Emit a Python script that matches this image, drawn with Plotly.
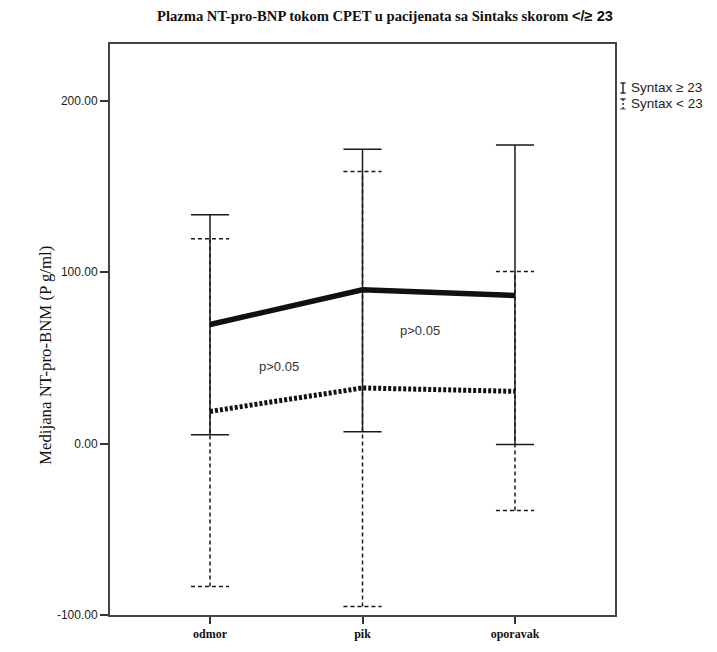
import plotly.graph_objects as go

# ---- data ----
categories = ["odmor", "pik", "oporavak"]
median_ge = [69.5, 89.8, 86.5]      # Syntax >= 23
upper_ge = [133.5, 171.8, 174.3]
lower_ge = [5.2, 7.0, -0.5]
median_lt = [18.8, 32.5, 30.5]      # Syntax < 23
upper_lt = [119.5, 158.8, 100.5]
lower_lt = [-83.4, -95.0, -39.0]
y_ticks = [-100, 0, 100, 200]
y_tick_labels = ["-100.00", "0.00", "100.00", "200.00"]
p_labels = ["p>0.05", "p>0.05"]
p_pos_x = [0.45, 1.38]
p_pos_y = [45, 66]

xs = list(range(len(categories)))
CAP = 0.125


def whisker_path(lo, hi):
    px, py = [], []
    for i, (a, b) in enumerate(zip(lo, hi)):
        px += [i, i, None, i - CAP, i + CAP, None, i - CAP, i + CAP, None]
        py += [a, b, None, b, b, None, a, a, None]
    return px, py


fig = go.Figure()

wx, wy = whisker_path(lower_ge, upper_ge)
fig.add_trace(go.Scatter(x=wx, y=wy, mode="lines", line=dict(color="#1a1a1a", width=1.5),
                         hoverinfo="skip", showlegend=False))
wx, wy = whisker_path(lower_lt, upper_lt)
fig.add_trace(go.Scatter(x=wx, y=wy, mode="lines",
                         line=dict(color="#1a1a1a", width=1.5, dash="4px,3px"),
                         hoverinfo="skip", showlegend=False))

fig.add_trace(go.Scatter(x=xs, y=median_ge, mode="lines", line=dict(color="#111", width=5.5),
                         name="Syntax ≥ 23", showlegend=False))
fig.add_trace(go.Scatter(x=xs, y=median_lt, mode="lines",
                         line=dict(color="#111", width=5, dash="3px,2px"),
                         name="Syntax < 23", showlegend=False))

for t, px, py in zip(p_labels, p_pos_x, p_pos_y):
    fig.add_annotation(x=px, y=py, text=t, showarrow=False,
                       font=dict(family="Liberation Sans, Arial", size=13, color="#333"))

# title
fig.add_annotation(
    xref="paper", yref="paper", x=0.545, y=1.049, xanchor="center", yanchor="middle",
    text="<b>Plazma NT-pro-BNP tokom CPET u pacijenata sa Sintaks skorom "
         "<span style='font-family:Liberation Sans, Arial'>&lt;/≥ 23</span></b>",
    showarrow=False, font=dict(family="Liberation Serif, Times New Roman", size=14.6, color="#111"))

# y-axis title
fig.add_annotation(
    xref="paper", yref="paper", x=-0.152, y=0.455, textangle=-90,
    text="Medijana NT-pro-BNM (P g/ml)", showarrow=False,
    font=dict(family="Liberation Serif, Times New Roman", size=16.8, color="#111"))

# legend (text + symbols)
leg_items = [("Syntax ≥ 23", 88, "solid"), ("Syntax < 23", 104, "dot")]
for txt, ypix, dash in leg_items:
    yp = (615 - ypix) / 571
    fig.add_annotation(xref="paper", yref="paper", x=(629 - 110) / 505, y=yp,
                       xanchor="left", yanchor="middle", text=txt, showarrow=False,
                       font=dict(family="Liberation Sans, Arial", size=13.5, color="#222"))
    x0 = (623 - 110) / 505
    hw = 2.5 / 505
    top = (615 - (ypix - 5)) / 571
    bot = (615 - (ypix + 5)) / 571
    ld = dict(color="#222", width=1.4, dash="2px,2px" if dash == "dot" else "solid")
    fig.add_shape(type="line", xref="paper", yref="paper", x0=x0, x1=x0, y0=bot, y1=top, line=ld)
    fig.add_shape(type="line", xref="paper", yref="paper", x0=x0 - hw, x1=x0 + hw, y0=top, y1=top,
                  line=dict(color="#222", width=1.4))
    if dash == "solid":
        fig.add_shape(type="line", xref="paper", yref="paper", x0=x0 - hw, x1=x0 + hw, y0=bot, y1=bot,
                      line=dict(color="#222", width=1.4))
    else:
        fig.add_shape(type="line", xref="paper", yref="paper", x0=x0 - hw, x1=x0 + hw, y0=bot, y1=bot,
                      line=dict(color="#222", width=1.4, dash="1px,1px"))

fig.update_layout(
    width=717, height=652,
    margin=dict(l=110, r=102, t=44, b=37),
    paper_bgcolor="white", plot_bgcolor="white",
    showlegend=False,
)
fig.update_xaxes(
    range=[-0.656, 2.656], tickmode="array", tickvals=xs,
    ticktext=["<b>" + c + "</b>" for c in categories],
    showgrid=False, zeroline=False, showline=True, mirror=True, linecolor="#444", linewidth=2,
    ticks="outside", ticklen=7, tickwidth=2, tickcolor="#333",
    tickfont=dict(family="Liberation Serif, Times New Roman", size=12, color="#111"),
)
fig.update_yaxes(
    range=[-100, 233.2], tickmode="array", tickvals=y_ticks, ticktext=y_tick_labels,
    showgrid=False, zeroline=False, showline=True, mirror=True, linecolor="#444", linewidth=2,
    ticks="outside", ticklen=8, tickwidth=2, tickcolor="#333",
    tickfont=dict(family="Liberation Sans, Arial", size=12, color="#222"),
)

fig.write_html("out.html")
